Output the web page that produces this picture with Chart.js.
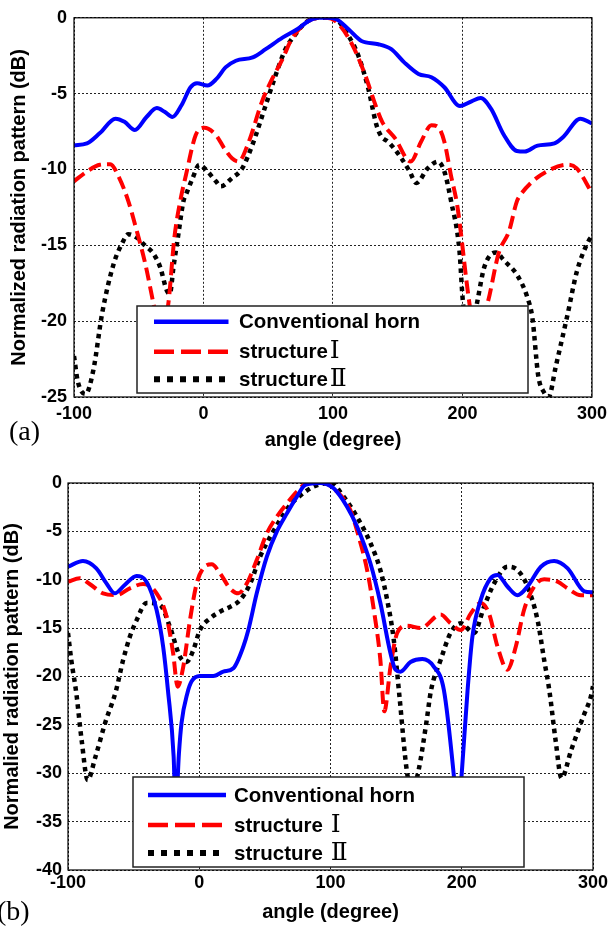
<!DOCTYPE html>
<html>
<head>
<meta charset="utf-8">
<script src="https://cdn.jsdelivr.net/npm/chart.js@4.4.0/dist/chart.umd.min.js"></script>
<style>
  html, body { margin: 0; padding: 0; background: #fff; }
  #wrap { position: relative; width: 613px; height: 930px; overflow: hidden; }
  canvas { position: absolute; left: 0; }
  #chartA { top: 0; }
  #chartB { top: 460px; }
</style>
</head>
<body>
<div id="wrap">
  <canvas id="chartA" width="613" height="460"></canvas>
  <canvas id="chartB" width="613" height="470"></canvas>
</div>
<script>
// ---- data: panel (a) ----
var xTicks = [-100, 0, 100, 200, 300]
var yTicksA = [0, -5, -10, -15, -20, -25]
var yTicksB = [0, -5, -10, -15, -20, -25, -30, -35, -40]

var hornA_x = [-100, -90, -80, -68, -61, -53, -44, -36, -30, -24, -17, -10, -5, 3, 10, 17, 25, 38, 48, 61, 73, 81, 89, 95, 102, 112, 122, 135, 145, 155, 166, 176, 186, 198, 207, 214, 222, 232, 242, 248, 258, 271, 278, 291, 300]
var hornA_y = [-8.4, -8.28, -7.6, -6.65, -6.86, -7.4, -6.54, -5.95, -6.2, -6.54, -5.77, -4.58, -4.31, -4.47, -4.03, -3.27, -2.83, -2.61, -2.07, -1.31, -0.72, -0.22, 0, 0, -0.07, -0.76, -1.53, -1.74, -2.07, -2.94, -3.7, -3.92, -4.58, -5.82, -5.51, -5.29, -5.99, -7.73, -8.78, -8.82, -8.43, -8.28, -7.84, -6.65, -6.97]

var s1A_x = [-100, -90, -80, -72, -65, -58, -52, -45, -38.6, -33, -27.1, -22.5, -18, -13.5, -6, 0.6, 9.6, 16, 22, 27, 35, 45, 53, 61, 68, 79, 90, 95, 102, 114, 125, 132, 138, 148, 160, 168, 176, 181, 186, 191, 196, 205, 210, 219.4, 228, 236, 242, 245, 253, 265, 281, 288, 300]
var s1A_y = [-10.78, -10.13, -9.69, -9.65, -10.57, -12.1, -13.9, -16.2, -18.85, -21, -18.8, -14.5, -12.1, -10.35, -7.73, -7.25, -7.73, -8.6, -9.26, -9.48, -8.17, -5.56, -4.03, -2.72, -1.42, -0.33, 0, 0, -0.22, -1.63, -3.81, -5.56, -6.86, -7.95, -9.48, -8.17, -7.08, -7.19, -8.17, -10.35, -12.4, -18.6, -21, -18.8, -15.5, -14.05, -12.1, -11.65, -10.87, -10.13, -9.69, -9.91, -11.55]

var s2A_x = [-100, -97, -91, -85, -78.3, -69.3, -63, -58, -51.4, -45, -38.6, -33.4, -28.4, -26, -23.2, -19.4, -15.5, -13.5, -8.4, -3.3, 1.9, 9.6, 13.4, 22, 30, 37.7, 48, 55.6, 63.3, 71, 79, 88, 100, 112, 119.6, 127.3, 133.6, 137.5, 142.6, 152.8, 159.2, 164.3, 173.3, 181, 186, 191.2, 197.7, 200.2, 205, 211.7, 216.8, 225.8, 232.2, 242.4, 250, 254, 258.5, 263, 266.5, 272, 280.8, 288.5, 297.5, 300]
var s2A_y = [-22.3, -24, -24.8, -23.2, -19.5, -16.2, -14.9, -14.27, -14.5, -15.03, -15.56, -16.45, -17.97, -18.2, -16.45, -14.27, -12.09, -11.65, -10.57, -9.69, -10.02, -10.78, -11.11, -10.57, -9.91, -8.39, -5.77, -3.81, -2.07, -1.09, -0.3, 0, 0, -1.2, -2.5, -4.68, -7.08, -7.84, -8.17, -9.26, -10.13, -10.89, -9.91, -9.48, -10.13, -12.09, -15.4, -18.6, -21.5, -18.6, -16.45, -15.47, -16.01, -16.99, -18.41, -19.8, -23.6, -24.7, -25, -23, -19.7, -16.67, -14.7, -14.4]

// ---- data: panel (b) ----
var hornB_x = [-100, -88.6, -78.4, -70.7, -64.4, -56.8, -47.8, -40.2, -32.5, -27.5, -23.8, -19.5, -18, -15.5, -13.5, -9, -5.8, 0.5, 10.7, 18.3, 26, 33.6, 37.4, 43.8, 51.5, 59.1, 66.8, 74.4, 80.8, 92, 102.4, 112.6, 120.2, 130.4, 138, 145.7, 149.5, 153.3, 161, 170, 178.8, 186.4, 193.8, 197, 200, 204.4, 208.1, 214.4, 222, 227.2, 234.8, 242.5, 250.1, 260.3, 270.4, 280.7, 293.4, 300]
var hornB_y = [-8.65, -8.06, -8.82, -10.37, -11.4, -10.54, -9.61, -10.2, -13.13, -16.92, -21.5, -28.3, -34, -28, -24.8, -21.7, -20.5, -19.95, -19.95, -19.5, -19.15, -16.9, -15.2, -11.4, -7.6, -5.03, -3.14, -1.41, -0.2, 0, -0.55, -2.45, -4.5, -8.3, -12.4, -17.6, -19.3, -19.5, -18.5, -18.2, -19, -21.4, -30, -35, -30, -21.5, -15.9, -12.1, -9.85, -9.5, -10.7, -11.6, -10.7, -8.65, -8.06, -8.82, -11.2, -11.3]

var s1B_x = [-100, -91, -83.5, -73.3, -63.1, -52.9, -42.8, -32.5, -24.9, -19.9, -16.5, -12.2, -7.1, -2, 3.1, 9.5, 15.8, 23.5, 29.8, 36.2, 43.8, 51.5, 59.1, 66.8, 74.4, 82, 94.7, 105, 115.1, 121.5, 127.9, 133, 138, 141, 145.7, 150.8, 158.4, 168.6, 183.9, 191.5, 199.2, 206.8, 214.4, 220.8, 227.2, 234.8, 241.2, 247.5, 255.2, 262.8, 273, 280.7, 290.8, 300]
var s1B_y = [-10.2, -9.85, -10.44, -11.4, -11.58, -10.89, -10.44, -11.4, -13.8, -17.6, -21.05, -19, -14.2, -10.4, -8.8, -8.4, -9.33, -10.9, -11.4, -10.4, -7.96, -5.2, -3.48, -2.1, -0.9, -0.03, 0, -0.9, -2.8, -5.55, -9, -13.1, -18.3, -23.6, -19, -15.5, -14.75, -15, -13.6, -14.5, -15.2, -13.5, -12.4, -13.5, -16.9, -19.3, -16.9, -13.1, -10.7, -9.96, -10.2, -10.9, -11.6, -11.6]

var s2B_x = [-100, -97.5, -93.7, -89.6, -85, -79.1, -71.7, -63.5, -58, -52.9, -47.8, -40.2, -30, -22.4, -14.7, -9.6, -4.6, 0.5, 8.2, 15.8, 23.5, 31.1, 38.8, 46.4, 54.1, 61.7, 69.3, 77, 87.1, 99.9, 110, 120.2, 130.4, 138, 143.2, 148.2, 152.5, 158.1, 162, 167.1, 173, 176.5, 183.9, 191.5, 199.2, 209.3, 217, 224.6, 234.8, 242.5, 250.1, 257.8, 262.8, 266.8, 271.5, 276, 283.4, 292.4, 298.3, 300]
var s2B_y = [-15.5, -18.3, -21.7, -26.6, -30.7, -28.3, -24.8, -21.5, -18.3, -15.9, -14.2, -12.4, -12.6, -14.85, -17.95, -18.5, -17.3, -15.2, -14, -13.3, -12.8, -12.1, -10.4, -7.6, -5.55, -3.8, -2.27, -1.3, -0.38, 0, -1.4, -3.5, -6.2, -9, -12.1, -16.2, -22, -29.7, -32, -29.7, -24.8, -21.5, -18.3, -15.5, -14.5, -15.5, -12.8, -10.4, -8.65, -9, -10.7, -14.2, -18.3, -21.5, -26.6, -30.5, -27.6, -24.2, -22.1, -21]

var legendNames = ['Conventional horn', 'structure', 'structure']
var legendNumerals = ['', '\u2160', '\u2161']

// ---- helpers ----
var SANS = "'Liberation Sans', Arial, sans-serif"
var SERIF = "'Liberation Serif', 'DejaVu Serif', serif"

function pairs (xs, ys) {
  return xs.map(function (x, i) { return { x: x, y: ys[i] } })
}

function series (xs, ys, color, dash, width) {
  return {
    data: pairs(xs, ys),
    borderColor: color,
    borderWidth: width,
    borderDash: dash,
    borderCapStyle: 'butt',
    pointRadius: 0,
    fill: false,
    cubicInterpolationMode: 'monotone'
  }
}

var legendDash = [[], [20, 7], [6, 7]]

// frame, legend and panel label drawn over the data
var boxPlugin = {
  id: 'matlabBox',
  afterDatasetsDraw: function (chart, args, opts) {
    var ctx = chart.ctx
    var a = chart.chartArea
    ctx.save()
    ctx.setLineDash([])
    ctx.strokeStyle = '#000'
    ctx.lineWidth = 1.2
    ctx.strokeRect(a.left, a.top, a.right - a.left, a.bottom - a.top)

    // legend
    var b = opts.box
    ctx.fillStyle = '#fff'
    ctx.fillRect(b[0], b[1], b[2], b[3])
    ctx.lineWidth = 1.5
    ctx.strokeStyle = '#222'
    ctx.strokeRect(b[0], b[1], b[2], b[3])
    chart.data.datasets.forEach(function (ds, i) {
      var y = b[1] + opts.rows[i]
      ctx.beginPath()
      ctx.setLineDash(legendDash[i])
      ctx.lineCap = 'butt'
      ctx.strokeStyle = ds.borderColor
      ctx.lineWidth = ds.borderWidth + (i === 2 ? 1.5 : 0.5)
      ctx.moveTo(b[0] + opts.sample[0], y)
      ctx.lineTo(b[0] + opts.sample[1], y)
      ctx.stroke()
      ctx.setLineDash([])
      ctx.fillStyle = '#000'
      ctx.textBaseline = 'middle'
      ctx.textAlign = 'left'
      ctx.font = 'bold 20.5px ' + SANS
      var tx = b[0] + opts.textX
      ctx.fillText(legendNames[i], tx, y + 1)
      if (legendNumerals[i]) {
        var w = ctx.measureText(legendNames[i]).width
        ctx.font = '25px ' + SERIF
        ctx.fillText(legendNumerals[i], tx + w + opts.gap, y)
      }
    })

    // panel label
    ctx.font = '28px ' + SERIF
    ctx.fillStyle = '#000'
    ctx.textBaseline = 'middle'
    ctx.textAlign = 'left'
    ctx.fillText(opts.panel[0], opts.panel[1], opts.panel[2])
    ctx.restore()
  }
}

function makeChart (id, sets, yMin, yTicks, cfg) {
  return new Chart(document.getElementById(id), {
    type: 'line',
    data: { datasets: sets },
    plugins: [boxPlugin],
    options: {
      responsive: false,
      animation: false,
      devicePixelRatio: 1,
      layout: { padding: cfg.padding },
      plugins: {
        legend: { display: false },
        tooltip: { enabled: false },
        matlabBox: cfg.box
      },
      scales: {
        x: {
          type: 'linear',
          min: -100,
          max: 300,
          afterBuildTicks: function (s) { s.ticks = xTicks.map(function (v) { return { value: v } }) },
          afterFit: function (s) { s.height = cfg.xHeight },
          grid: { color: '#222', lineWidth: 1, drawTicks: false },
          border: { display: false, dash: [2, 2] },
          ticks: {
            color: '#000',
            padding: cfg.xTickPad,
            maxRotation: 0,
            font: { family: SANS, size: 18, weight: 'bold' }
          },
          title: {
            display: true,
            text: 'angle (degree)',
            color: '#000',
            padding: { top: 0, bottom: cfg.xTitlePad },
            font: { family: SANS, size: 20, weight: 'bold' }
          }
        },
        y: {
          type: 'linear',
          min: yMin,
          max: 0,
          afterBuildTicks: function (s) { s.ticks = yTicks.map(function (v) { return { value: v } }) },
          afterFit: function (s) { s.width = cfg.yWidth },
          grid: { color: '#222', lineWidth: 1, drawTicks: false },
          border: { display: false, dash: [2, 2] },
          ticks: {
            color: '#000',
            padding: cfg.yTickPad,
            font: { family: SANS, size: 18, weight: 'bold' }
          },
          title: {
            display: true,
            text: cfg.yTitle,
            color: '#000',
            padding: { top: cfg.yTitlePad, bottom: 0 },
            font: { family: SANS, size: 20, weight: 'bold' }
          }
        }
      }
    }
  })
}

makeChart('chartA', [
  series(hornA_x, hornA_y, '#0000ff', [], 4),
  series(s1A_x, s1A_y, '#ff0000', [13, 6], 4),
  series(s2A_x, s2A_y, '#000000', [4.5, 4.5], 4.5)
], -25, yTicksA, {
  padding: { top: 15, right: 18, bottom: 0, left: 0 },
  xHeight: 63,
  yWidth: 74,
  xTickPad: 6,
  xTitlePad: 8,
  yTickPad: 7,
  yTitlePad: 7.5,
  yTitle: 'Normalized radiation pattern (dB)',
  box: {
    box: [137, 306, 391, 87],
    rows: [15.7, 45.7, 73.3],
    sample: [17, 91.5],
    textX: 102,
    gap: 2,
    panel: ['(a)', 9, 433]
  }
})

makeChart('chartB', [
  series(hornB_x, hornB_y, '#0000ff', [], 4),
  series(s1B_x, s1B_y, '#ff0000', [13, 6], 4),
  series(s2B_x, s2B_y, '#000000', [4.5, 4.5], 4.5)
], -40, yTicksB, {
  padding: { top: 23, right: 20, bottom: 0, left: 0 },
  xHeight: 60,
  yWidth: 68,
  xTickPad: 2,
  xTitlePad: 6,
  yTickPad: 6,
  yTitlePad: 0,
  yTitle: 'Normalied radiation pattern (dB)',
  box: {
    box: [133, 317, 391, 90],
    rows: [18, 48, 76],
    sample: [15, 93],
    textX: 101,
    gap: 8,
    panel: ['(b)', -3, 453]
  }
})
</script>
</body>
</html>
